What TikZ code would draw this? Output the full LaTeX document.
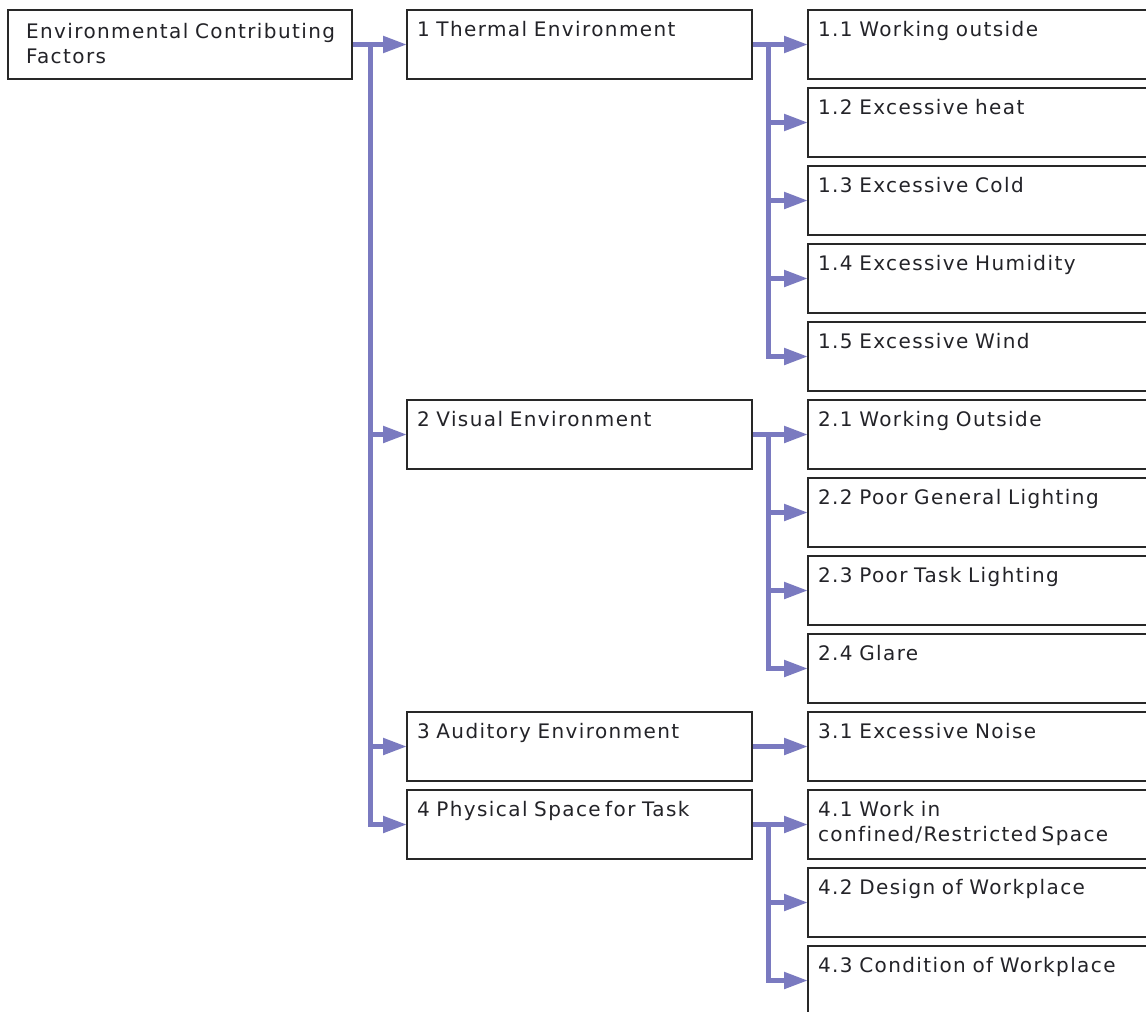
\documentclass[tikz,border=0pt]{standalone}
\usepackage{fontspec}
\usetikzlibrary{arrows.meta}
\newfontfamily\boxfont{DejaVu Sans}[LetterSpace=7,Ligatures=NoCommon]
\definecolor{conncol}{RGB}{122,122,192}
\definecolor{boxline}{RGB}{40,40,40}
\definecolor{txtcol}{RGB}{35,35,40}

\tikzset{
  box/.style={draw=boxline, line width=1.8pt, rectangle, anchor=north west,
    inner sep=0pt, outer sep=0pt, minimum height=69pt},
  lbl/.style={anchor=base west, inner sep=0pt, outer sep=0pt, text=txtcol,
    text width=340pt, align=left, font=\boxfont\fontsize{20}{25.5}\selectfont},
  conn/.style={draw=conncol, line width=5pt,
    -{Triangle[length=24pt,width=16pt]}},
}
\newcommand{\tightsp}{\hspace{0.22em}}

\begin{document}
\begin{tikzpicture}[x=1pt,y=-1pt]
\clip (0,0) rectangle (1146,1012);
\fill[white] (0,0) rectangle (1146,1012);

% root and first level
\node[box, minimum width=344pt] (root) at (8,10) {};
\node[box, minimum width=345pt] (t1) at (407,10) {};
\node[box, minimum width=345pt] (t2) at (407,400) {};
\node[box, minimum width=345pt] (t3) at (407,712) {};
\node[box, minimum width=345pt] (t4) at (407,790) {};

% second level (runs past the right edge)
\foreach \n/\y in {a1/10,a2/88,a3/166,a4/244,a5/322,
                   b1/400,b2/478,b3/556,b4/634,
                   c1/712,
                   d1/790,d2/868,d3/946}
  \node[box, minimum width=380pt] (\n) at (808,\y) {};

% junction points of the connector trees
\coordinate (j0) at ([xshift=18pt]root.east);
\coordinate (j1) at ([xshift=16pt]t1.east);
\coordinate (j2) at ([xshift=16pt]t2.east);
\coordinate (j4) at ([xshift=16pt]t4.east);

\foreach \c in {t1,t2,t3,t4}
  \draw[conn] (root.east) -- (j0) |- (\c.west);
\foreach \c in {a1,a2,a3,a4,a5}
  \draw[conn] (t1.east) -- (j1) |- (\c.west);
\foreach \c in {b1,b2,b3,b4}
  \draw[conn] (t2.east) -- (j2) |- (\c.west);
\draw[conn] (t3.east) -- (c1.west);
\foreach \c in {d1,d2,d3}
  \draw[conn] (t4.east) -- (j4) |- (\c.west);

% redraw box borders over the arrow tips
\foreach \n in {root,t1,t2,t3,t4,a1,a2,a3,a4,a5,b1,b2,b3,b4,c1,d1,d2,d3}
  \draw[boxline, line width=1.8pt] (\n.north west) rectangle (\n.south east);

% texts
\node[lbl] (rootT) at ([shift={(18,28)}]root.north west) {Environmental Contributing\\Factors};
\node[lbl] (t1T) at ([shift={(10,26)}]t1.north west) {1 Thermal Environment};
\node[lbl] (t2T) at ([shift={(10,26)}]t2.north west) {2 Visual Environment};
\node[lbl] (t3T) at ([shift={(10,26)}]t3.north west) {3 Auditory Environment};
\node[lbl] (t4T) at ([shift={(10,26)}]t4.north west) {4 Physical Space\tightsp for Task};

\node[lbl] (a1T) at ([shift={(10,26)}]a1.north west) {1.1 Working outside};
\node[lbl] (a2T) at ([shift={(10,26)}]a2.north west) {1.2 Excessive heat};
\node[lbl] (a3T) at ([shift={(10,26)}]a3.north west) {1.3 Excessive Cold};
\node[lbl] (a4T) at ([shift={(10,26)}]a4.north west) {1.4 Excessive Humidity};
\node[lbl] (a5T) at ([shift={(10,26)}]a5.north west) {1.5 Excessive Wind};
\node[lbl] (b1T) at ([shift={(10,26)}]b1.north west) {2.1 Working Outside};
\node[lbl] (b2T) at ([shift={(10,26)}]b2.north west) {2.2 Poor General Lighting};
\node[lbl] (b3T) at ([shift={(10,26)}]b3.north west) {2.3 Poor Task Lighting};
\node[lbl] (b4T) at ([shift={(10,26)}]b4.north west) {2.4 Glare};
\node[lbl] (c1T) at ([shift={(10,26)}]c1.north west) {3.1 Excessive Noise};
\node[lbl] (d1T) at ([shift={(10,26)}]d1.north west) {4.1 Work in\\confined/Restricted\tightsp Space};
\node[lbl] (d2T) at ([shift={(10,26)}]d2.north west) {4.2 Design of Workplace};
\node[lbl] (d3T) at ([shift={(10,26)}]d3.north west) {4.3 Condition of Workplace};
\end{tikzpicture}
\end{document}
